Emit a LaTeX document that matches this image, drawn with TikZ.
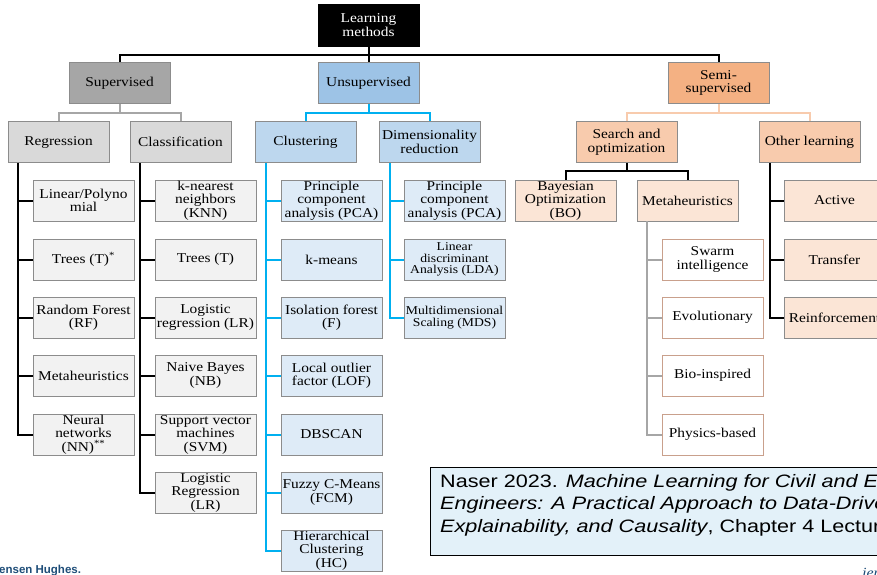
\documentclass[tikz,border=0pt]{standalone}
\usepackage{fontspec}
\setmainfont{Liberation Serif}[FakeStretch=1.14]
\newfontfamily\citefont{Liberation Sans}[FakeStretch=1.2]
\newfontfamily\brandfont{Liberation Sans}
\usetikzlibrary{calc}

\definecolor{edgegray}{HTML}{8C8C8C}
\definecolor{supfill}{HTML}{A6A6A6}
\definecolor{unsupfill}{HTML}{9DC3E6}
\definecolor{semifill}{HTML}{F4B183}
\definecolor{supmid}{HTML}{D9D9D9}
\definecolor{unsupmid}{HTML}{BDD7EE}
\definecolor{semimid}{HTML}{F8CBAD}
\definecolor{suplow}{HTML}{F2F2F2}
\definecolor{unsuplow}{HTML}{DEEBF7}
\definecolor{semilow}{HTML}{FBE5D6}
\definecolor{metaedge}{HTML}{C9A08C}
\definecolor{linkgray}{HTML}{A6A6A6}
\definecolor{linkblue}{HTML}{00B0F0}
\definecolor{linkorange}{HTML}{F8CBAD}
\definecolor{citebg}{HTML}{E3F1F9}
\definecolor{brandblue}{HTML}{1F4E79}

\newcommand\boxfont{\fontsize{13.5}{13.5}\selectfont}
\newcommand\smallboxfont{\fontsize{12}{11.8}\selectfont}
\newcommand\citesize{\fontsize{18}{22.5}\selectfont}

\tikzset{
  box/.style={draw=edgegray, line width=0.9pt, minimum width=101pt,
    minimum height=41pt, inner sep=0pt, align=center, font=\boxfont},
  rootbox/.style={box, fill=black, draw=black, text=white, minimum height=42pt},
  suptop/.style={box, fill=supfill},
  unsuptop/.style={box, fill=unsupfill},
  semitop/.style={box, fill=semifill},
  supmidbox/.style={box, fill=supmid},
  unsupmidbox/.style={box, fill=unsupmid},
  semimidbox/.style={box, fill=semimid},
  suplowbox/.style={box, fill=suplow},
  unsuplowbox/.style={box, fill=unsuplow},
  semilowbox/.style={box, fill=semilow},
  metabox/.style={box, fill=white, draw=metaedge},
  link/.style={line width=2pt, draw=black},
  graylink/.style={line width=2pt, draw=linkgray},
  bluelink/.style={line width=2pt, draw=linkblue},
  orangelink/.style={line width=2pt, draw=linkorange},
}

\begin{document}
\begin{tikzpicture}[x=1pt,y=-1pt]
\useasboundingbox (0,0) rectangle (877,574);
\clip (0,0) rectangle (877,574);
\fill[white] (0,0) rectangle (877,574);

% ---- top levels
\node[rootbox, font=\fontsize{13.5}{14.3}\selectfont] (root) at (368.5,25) {Learning\\methods};
\node[suptop] (sup) at (119.5,83) {Supervised};
\node[unsuptop] (unsup) at (368.5,83) {Unsupervised};
\node[semitop] (semi) at (718.5,83) {Semi-\\supervised};

\node[supmidbox] (reg) at (58.5,142) {Regression};
\node[supmidbox] (cls) at (180.5,142) {Classification};
\node[unsupmidbox] (clu) at (305.5,142) {Clustering};
\node[unsupmidbox] (dim) at (429.5,142) {Dimensionality\\reduction};
\node[semimidbox] (search) at (626.5,142) {Search and\\optimization};
\node[semimidbox] (other) at (809.5,142) {Other learning};

\node[semilowbox] (bo) at (565.5,200.5) {Bayesian\\Optimization\\(BO)};
\node[semilowbox] (meta) at (687.5,200.5) {Metaheuristics};

% ---- regression methods
\node[suplowbox] (r1) at (83.5,200.5) {Linear/Polyno\\mial};
\node[suplowbox] (r2) at (83.5,259.5) {Trees (T)\textsuperscript{*}};
\node[suplowbox] (r3) at (83.5,317.5) {Random Forest\\(RF)};
\node[suplowbox] (r4) at (83.5,375.5) {Metaheuristics};
\node[suplowbox] (r5) at (83.5,434.5) {Neural\\networks\\(NN)\smash{\textsuperscript{**}}};

% ---- classification methods
\node[suplowbox] (c1) at (205.5,200.5) {k-nearest\\neighbors\\(KNN)};
\node[suplowbox] (c2) at (205.5,259.5) {Trees (T)};
\node[suplowbox] (c3) at (205.5,317.5) {Logistic\\regression (LR)};
\node[suplowbox] (c4) at (205.5,375.5) {Naive Bayes\\(NB)};
\node[suplowbox] (c5) at (205.5,434.5) {Support vector\\machines\\(SVM)};
\node[suplowbox] (c6) at (205.5,492.5) {Logistic\\Regression\\(LR)};

% ---- clustering methods
\node[unsuplowbox] (k1) at (331.5,200.5) {Principle\\component\\analysis (PCA)};
\node[unsuplowbox] (k2) at (331.5,259.5) {k-means};
\node[unsuplowbox] (k3) at (331.5,317.5) {Isolation forest\\(F)};
\node[unsuplowbox] (k4) at (331.5,375.5) {Local outlier\\factor (LOF)};
\node[unsuplowbox] (k5) at (331.5,434.5) {DBSCAN};
\node[unsuplowbox] (k6) at (331.5,492.5) {Fuzzy C-Means\\(FCM)};
\node[unsuplowbox] (k7) at (331.5,550.5) {Hierarchical\\Clustering\\(HC)};

% ---- dimensionality reduction methods
\node[unsuplowbox] (d1) at (454.5,200.5) {Principle\\component\\analysis (PCA)};
\node[unsuplowbox, font=\smallboxfont] (d2) at (454.5,259.5) {Linear\\discriminant\\Analysis (LDA)};
\node[unsuplowbox, font=\smallboxfont] (d3) at (454.5,317.5) {Multidimensional\\Scaling (MDS)};

% ---- metaheuristic families
\node[metabox] (m1) at (712.5,259.5) {Swarm\\intelligence};
\node[metabox] (m2) at (712.5,317.5) {Evolutionary};
\node[metabox] (m3) at (712.5,375.5) {Bio-inspired};
\node[metabox] (m4) at (712.5,434.5) {Physics-based};

% ---- other learning
\node[semilowbox] (o1) at (834.5,200.5) {Active};
\node[semilowbox] (o2) at (834.5,259.5) {Transfer};
\node[semilowbox] (o3) at (834.5,317.5) {Reinforcement};

% ---- connectors between levels
\coordinate (rootj) at ($(root.south)+(0,9)$);
\draw[link] (sup.north) |- (rootj) -| (semi.north);
\draw[link] (root.south) -- (unsup.north);

\coordinate (supj) at ($(sup.south)+(0,9)$);
\draw[graylink] (reg.north) |- (supj) -| (cls.north);
\draw[graylink] (sup.south) -- (supj);

\coordinate (unsupj) at ($(unsup.south)+(0,9)$);
\draw[bluelink] (clu.north) |- (unsupj) -| (dim.north);
\draw[bluelink] (unsup.south) -- (unsupj);

\coordinate (semij) at ($(semi.south)+(0,9)$);
\draw[orangelink] (search.north) |- (semij) -| (other.north);
\draw[orangelink] (semi.south) -- (semij);

\coordinate (searchj) at ($(search.south)+(0,8)$);
\draw[link] (bo.north) |- (searchj) -| (meta.north);
\draw[link] (search.south) -- (searchj);

% ---- list spines with stubs
\draw[link] ($(reg.south west)+(10,0)$) |- (r5.west);
\foreach \i in {1,...,4} \draw[link] (r\i.west) -- ++(-15,0);

\draw[link] ($(cls.south west)+(10,0)$) |- (c6.west);
\foreach \i in {1,...,5} \draw[link] (c\i.west) -- ++(-15,0);

\draw[bluelink] ($(clu.south west)+(11,0)$) |- (k7.west);
\foreach \i in {1,...,6} \draw[bluelink] (k\i.west) -- ++(-15,0);

\draw[bluelink] ($(dim.south west)+(11,0)$) |- (d3.west);
\foreach \i in {1,2} \draw[bluelink] (d\i.west) -- ++(-14,0);

\draw[graylink] ($(meta.south west)+(10,0)$) |- (m4.west);
\foreach \i in {1,2,3} \draw[graylink] (m\i.west) -- ++(-15,0);

\draw[link] ($(other.south west)+(11,0)$) |- (o3.west);
\foreach \i in {1,2} \draw[link] (o\i.west) -- ++(-14,0);

% ---- reference box
\node[draw=black, line width=0.8pt, fill=citebg, minimum width=470pt,
  minimum height=88pt, anchor=north west, inner sep=0pt] (cite) at (430,467) {};
\node[anchor=base west, inner sep=0pt, font=\citefont\citesize] (cite1) at (440,487)
  {Naser 2023. \textit{Machine Learning for Civil and Environmental}};
\node[anchor=base west, inner sep=0pt, font=\citefont\citesize] (cite2) at (440,509.5)
  {\textit{Engineers: A Practical Approach to Data-Driven Analysis,}};
\node[anchor=base west, inner sep=0pt, font=\citefont\citesize] (cite3) at (440,532)
  {\textit{Explainability, and Causality}, Chapter 4 Lecture};

% ---- footer marks
\node[anchor=base west, inner sep=0pt, text=brandblue,
  font=\brandfont\bfseries\fontsize{11.5}{12}\selectfont] (brand) at (-1,573) {ensen Hughes.};
\node[anchor=base west, inner sep=0pt, text=brandblue,
  font=\itshape\fontsize{14}{14}\selectfont] (site) at (862,577) {jensen};
\end{tikzpicture}
\end{document}
